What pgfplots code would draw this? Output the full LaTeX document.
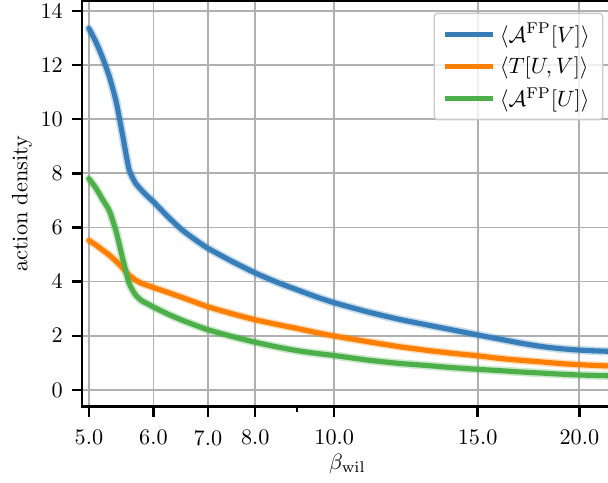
\documentclass[border=0pt]{standalone}
\usepackage{pgfplots}
\usepackage{pgfplotstable}
\pgfplotsset{compat=1.18}

\definecolor{cblue}{HTML}{377EB8}
\definecolor{corange}{HTML}{FF7F00}
\definecolor{cgreen}{HTML}{4DAF4A}
\definecolor{gridgray}{HTML}{B0B0B0}

% beta, <A^FP[V]>, <T[U,V]>, <A^FP[U]>
\pgfplotstableread{
beta  AV     T     AU
5.0   13.35  5.52  7.80
5.1   12.85  5.35  7.45
5.2   12.25  5.16  7.02
5.3   11.55  4.97  6.60
5.4   10.65  4.75  5.85
5.5   9.40   4.50  4.85
5.6   8.15   4.24  3.95
5.7   7.65   4.06  3.52
5.8   7.38   3.94  3.30
5.9   7.15   3.86  3.18
6.0   6.95   3.78  3.06
6.25  6.40   3.60  2.80
6.5   5.92   3.42  2.58
6.75  5.55   3.24  2.39
7.0   5.23   3.07  2.22
7.5   4.74   2.81  1.97
8.0   4.32   2.59  1.76
8.5   3.98   2.42  1.59
9.0   3.70   2.27  1.45
9.5   3.44   2.12  1.35
10.0  3.22   1.99  1.27
11.0  2.88   1.78  1.10
12.0  2.61   1.60  0.98
13.0  2.40   1.46  0.90
14.0  2.21   1.35  0.82
15.0  2.03   1.26  0.76
16.0  1.87   1.16  0.71
17.0  1.72   1.09  0.66
18.0  1.60   1.03  0.62
19.0  1.52   0.97  0.58
20.0  1.47   0.93  0.55
21.0  1.44   0.90  0.53
22.0  1.42   0.88  0.52
}\actiondata

\begin{document}
\begin{tikzpicture}
\begin{axis}[
    scale only axis,
    width=239.1pt, height=182.6pt,
    xmode=log,
    xmin=4.9, xmax=22,
    ymin=-0.62, ymax=14.37,
    xtick={5,6,7,8,10,15,20},
    xticklabels={5.0,6.0,7.0,8.0,10.0,15.0,20.0},
    minor xtick={9},
    ytick={0,2,4,6,8,10,12,14},
    tick pos=left,
    tick align=outside,
    major tick length=4.5pt,
    minor tick length=2.4pt,
    every major tick/.append style={line width=1.1pt, black},
    every minor tick/.append style={line width=0.8pt, black},
    axis line style={line width=1.1pt, black},
    grid=major,
    major grid style={line width=0.8pt, gridgray},
    xticklabel style={yshift=-2.5pt},
    yticklabel style={xshift=-0.5pt},
    xlabel={$\beta_{\mathrm{wil}}$},
    ylabel={action density},
    xlabel style={at={(axis description cs:0.5,-0.141)}, anchor=center},
    ylabel style={at={(axis description cs:-0.1125,0.5)}, anchor=center},
    every axis plot/.append style={line join=round, line cap=round, smooth, tension=0.35},
    legend cell align=left,
    legend image code/.code={\draw[#1, line cap=butt] (0pt,0pt) -- (21.5pt,0pt);},
    legend style={at={(1,1)}, anchor=north east, xshift=-4.4pt, yshift=-5.3pt,
        draw=black!20, line width=0.6pt, rounded corners=1.5pt,
        fill=white, fill opacity=0.8, text opacity=1, draw opacity=1,
        inner xsep=3.8pt, inner ysep=2.5pt, row sep=1pt},
]
% uncertainty bands
\addplot[forget plot, cblue, opacity=0.28, line width=3.8pt] table[x=beta, y=AV] {\actiondata};
\addplot[forget plot, corange, opacity=0.28, line width=3.6pt] table[x=beta, y=T] {\actiondata};
\addplot[forget plot, cgreen, opacity=0.28, line width=3.8pt] table[x=beta, y=AU] {\actiondata};
% means
\addplot[cblue, line width=2.3pt] table[x=beta, y=AV] {\actiondata};
\addlegendentry{$\langle\mathcal{A}^{\mathrm{FP}}[V]\rangle$}
\addplot[corange, line width=2.3pt] table[x=beta, y=T] {\actiondata};
\addlegendentry{$\langle T[U,V]\rangle$}
\addplot[cgreen, line width=2.3pt] table[x=beta, y=AU] {\actiondata};
\addlegendentry{$\langle\mathcal{A}^{\mathrm{FP}}[U]\rangle$}
\end{axis}
\pgfresetboundingbox
\path[use as bounding box]
    ([xshift=-36.8pt, yshift=-34.3pt]current axis.south west) rectangle
    ([xshift=236.8pt, yshift=183.0pt]current axis.south west);
\end{tikzpicture}
\end{document}
